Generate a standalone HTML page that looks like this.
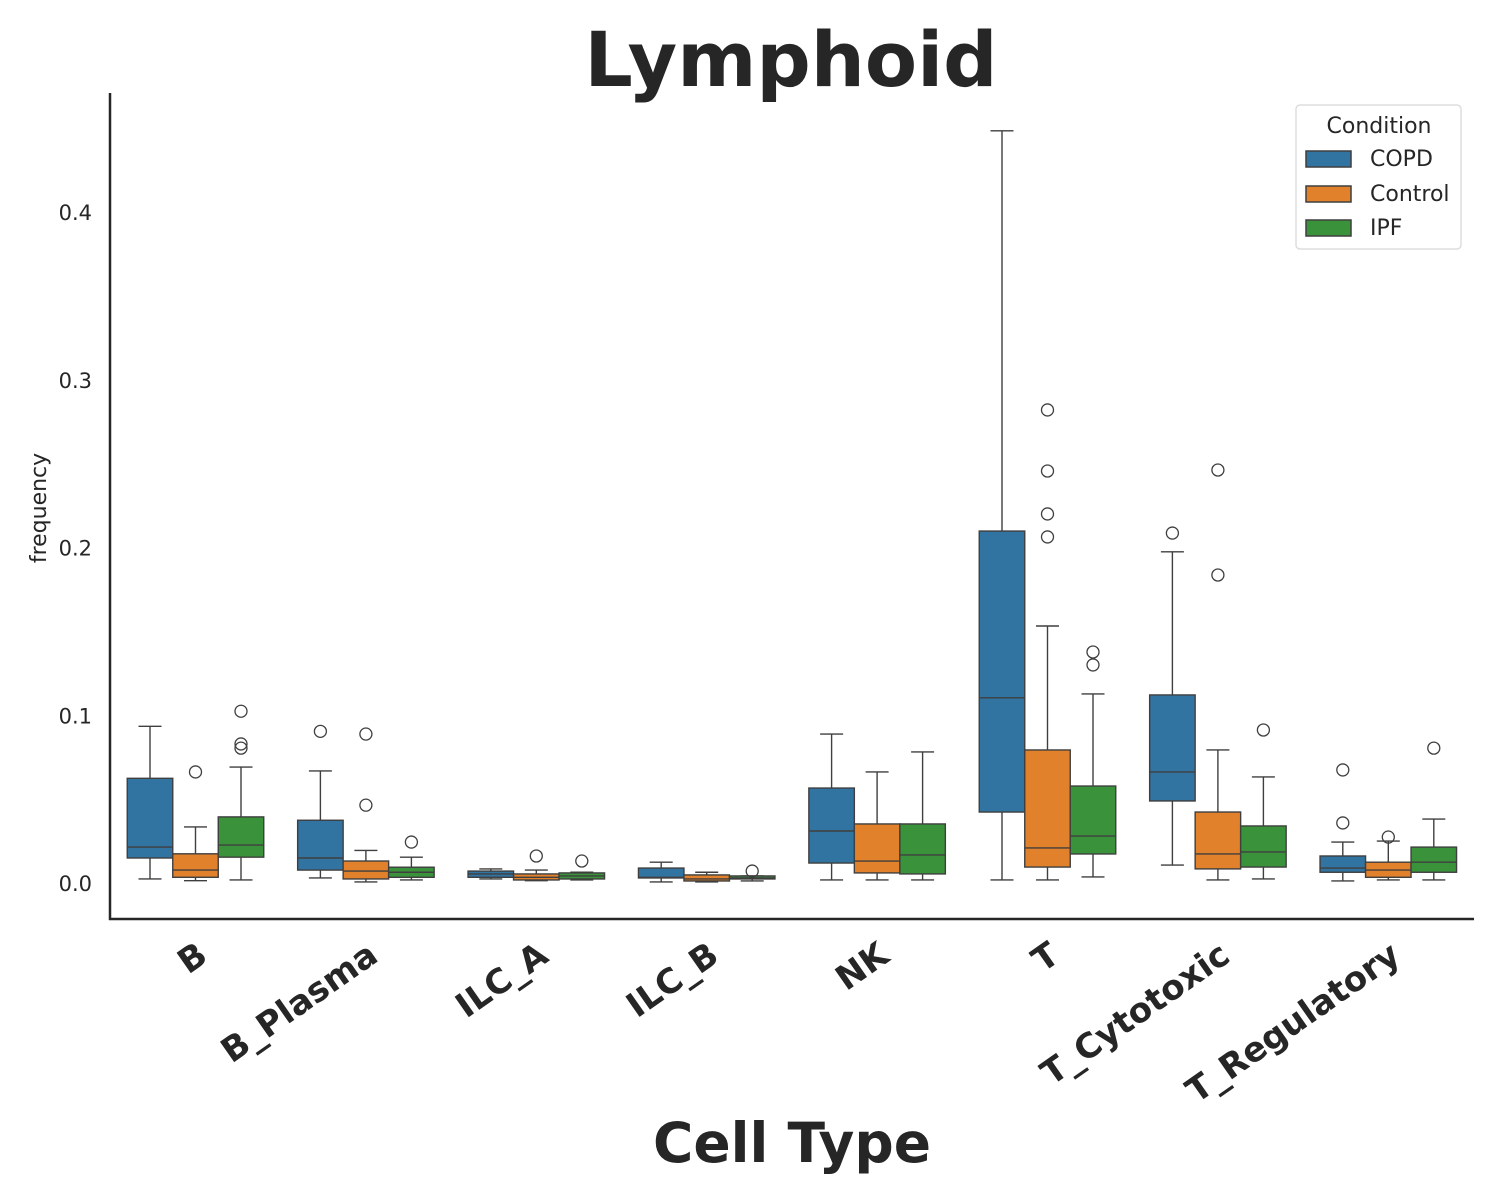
<!DOCTYPE html>
<html><head><meta charset="utf-8"><style>
body{margin:0;background:#fff}
svg{display:block;font-family:"DejaVu Sans","Liberation Sans",sans-serif}
</style></head><body>
<svg id="chart" width="1500" height="1200" viewBox="0 0 1500 1200" xmlns="http://www.w3.org/2000/svg">
<rect width="1500" height="1200" fill="#fff"/>
<text x="791" y="86" font-size="76" font-weight="bold" text-anchor="middle" fill="#262626">Lymphoid</text>
<text x="792" y="1162" font-size="55" font-weight="bold" text-anchor="middle" fill="#262626">Cell Type</text>
<text transform="translate(46,508) rotate(-90)" font-size="22" text-anchor="middle" fill="#262626">frequency</text>
<g id="marks"></g>
<line x1="110" y1="93" x2="110" y2="920" stroke="#262626" stroke-width="2.5"/>
<line x1="109" y1="919" x2="1474" y2="919" stroke="#262626" stroke-width="2.5"/>
<g id="ticks"></g>
<g>
<rect x="1296" y="105" width="165" height="144" rx="4" fill="#fff" stroke="#ddd" stroke-width="1.5"/>
<text x="1379" y="133" font-size="22" text-anchor="middle" fill="#262626">Condition</text>
<g><rect x="1306" y="151" width="45" height="16" fill="#3274a1" stroke="#3f3f3f" stroke-width="1.5"/><text x="1370" y="166" font-size="22" fill="#262626">COPD</text></g>
<g><rect x="1306" y="186" width="45" height="16" fill="#e1812c" stroke="#3f3f3f" stroke-width="1.5"/><text x="1370" y="201" font-size="22" fill="#262626">Control</text></g>
<g><rect x="1306" y="220" width="45" height="16" fill="#3a923a" stroke="#3f3f3f" stroke-width="1.5"/><text x="1370" y="235" font-size="22" fill="#262626">IPF</text></g>
</g>
</svg>
<script>
const categories = ["B","B_Plasma","ILC_A","ILC_B","NK","T","T_Cytotoxic","T_Regulatory"];
const conditions = ["COPD","Control","IPF"];
const yTicks = [0.0,0.1,0.2,0.3,0.4];
const yTickLabels = ["0.0","0.1","0.2","0.3","0.4"];
// [whiskerLow, q1, median, q3, whiskerHigh] per category
const copdStats = [[0.003,0.0155,0.022,0.063,0.094],[0.0036,0.0083,0.0155,0.038,0.0674],[0.003,0.004,0.006,0.0077,0.009],[0.0012,0.0036,0.004,0.0095,0.013],[0.0024,0.0125,0.0316,0.0572,0.0894],[0.0024,0.0429,0.111,0.2104,0.449],[0.0113,0.0495,0.0668,0.1127,0.198],[0.0018,0.007,0.0095,0.0167,0.025]];
const controlStats = [[0.002,0.004,0.0083,0.018,0.034],[0.0012,0.003,0.0077,0.0137,0.020],[0.002,0.0024,0.004,0.006,0.0083],[0.0012,0.0018,0.003,0.0054,0.007],[0.0024,0.0066,0.0137,0.0358,0.0668],[0.0024,0.0101,0.0215,0.0799,0.1538],[0.0024,0.009,0.0179,0.0429,0.0799],[0.0024,0.004,0.0083,0.013,0.0256]];
const ipfStats = [[0.0024,0.016,0.0232,0.04,0.0697],[0.0024,0.004,0.007,0.010,0.016],[0.0024,0.003,0.0048,0.0066,0.007],[0.0018,0.003,0.0036,0.0048,0.0048],[0.0024,0.006,0.0173,0.0358,0.0787],[0.0042,0.0179,0.0286,0.0584,0.1133],[0.003,0.0101,0.0191,0.0346,0.0638],[0.0024,0.007,0.013,0.022,0.0387]];
const copdOutliers = [[],[0.091],[],[],[],[],[0.2092],[0.068,0.0364]];
const controlOutliers = [[0.0668],[0.0894,0.047],[0.0167],[],[],[0.2826,0.2462,0.2206,0.2069],[0.2468,0.1842],[0.028]];
const ipfOutliers = [[0.103,0.0835,0.081],[0.025],[0.0137],[0.0077],[],[0.1383,0.1306],[0.0918],[0.081]];

const colors = ["#3274a1","#e1812c","#3a923a"];
const NS="http://www.w3.org/2000/svg";
const y = v => 884 - v*1677.5;
const xc = i => 195.5 + i*170.4;
const boxW = 45.5;
const marks = document.getElementById('marks');
const ticks = document.getElementById('ticks');
function mk(tag, attrs, parent){const e=document.createElementNS(NS,tag);for(const k in attrs)e.setAttribute(k,attrs[k]);parent.appendChild(e);return e;}
const allStats=[copdStats,controlStats,ipfStats];
const allOut=[copdOutliers,controlOutliers,ipfOutliers];
categories.forEach((c,i)=>{
  conditions.forEach((cond,j)=>{
    const s=allStats[j][i];
    const cx=xc(i)+(j-1)*boxW;
    const g=mk('g',{},marks);
    
    
    const st={stroke:'#3f3f3f','stroke-width':1.4};
    mk('line',Object.assign({x1:cx,x2:cx,y1:y(s[0]),y2:y(s[1])},st),g);
    mk('line',Object.assign({x1:cx,x2:cx,y1:y(s[3]),y2:y(s[4])},st),g);
    mk('line',Object.assign({x1:cx-11.5,x2:cx+11.5,y1:y(s[0]),y2:y(s[0])},st),g);
    mk('line',Object.assign({x1:cx-11.5,x2:cx+11.5,y1:y(s[4]),y2:y(s[4])},st),g);
    mk('rect',Object.assign({x:cx-boxW/2,y:y(s[3]),width:boxW,height:Math.max(0.5,y(s[1])-y(s[3])),fill:colors[j]},st),g);
    mk('line',Object.assign({x1:cx-boxW/2,x2:cx+boxW/2,y1:y(s[2]),y2:y(s[2])},st),g);
    allOut[j][i].forEach(v=>{
      const o=mk('circle',{cx:cx,cy:y(v),r:6,fill:'none',stroke:'#3f3f3f','stroke-width':1.3},g);
      
      
    });
  });
  const t=mk('text',{transform:`translate(${xc(i)+14},${960}) rotate(-35)`,'font-size':34,'font-weight':'bold','text-anchor':'end',fill:'#262626'},ticks);
  
  
  t.textContent=c;
});
yTicks.forEach((v,k)=>{
  const t=mk('text',{x:92,y:y(v)+7,'font-size':21,'text-anchor':'end',fill:'#262626'},ticks);
  
  
  t.textContent=yTickLabels[k];
});
</script>
</body></html>
